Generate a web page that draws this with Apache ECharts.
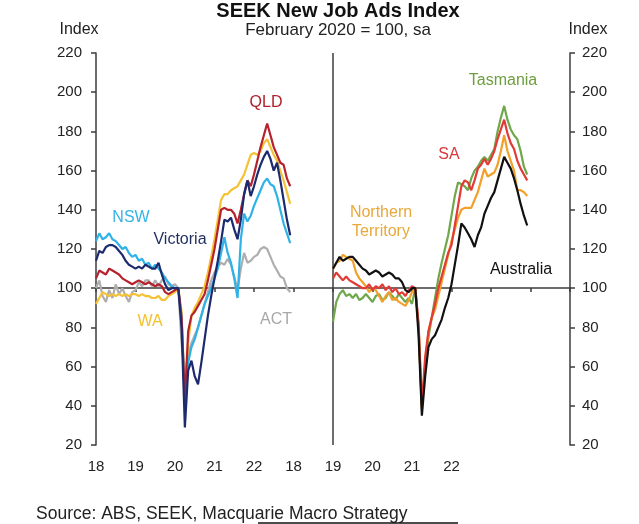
<!DOCTYPE html>
<html><head><meta charset="utf-8">
<script src="https://cdn.jsdelivr.net/npm/echarts/dist/echarts.min.js"></script>
<style>html,body{margin:0;padding:0;background:#fff}#c{width:639px;height:524px}</style>
</head><body><div id="c"></div>
<script>
// x tick labels (one per year tick across both panels)
const yearLabels = ['18','19','20','21','22','18','19','20','21','22','','',''];
const yMin = 20, yMax = 220, yStep = 20;

// Monthly index values, Jan 2018 .. Dec 2022 (Feb 2020 = 100)
// Left panel
const nsw = [124,128,125,126,128,125,124,122,120,121,118,116,
             117,114,115,112,113,110,112,110,108,105,103,101,
             100,100,85,42,62,70,74,80,86,92,96,100,
             105,110,118,126,118,113,105,95,125,138,134,137,
             142,146,150,154,156,153,152,147,140,133,128,123];
const victoria = [114,119,118,121,122,122,121,119,117,114,112,111,
                  110,111,110,112,111,110,110,113,107,102,99,100,
                  100,100,80,29,58,63,55,51,62,74,86,96,
                  105,114,124,135,134,136,130,125,135,148,155,147,
                  152,158,163,167,170,166,160,164,155,145,135,127];
const qld = [105,109,108,107,110,109,108,107,105,104,103,102,
             103,104,103,102,103,102,101,102,101,98,97,98,
             99,100,85,42,78,86,88,91,94,97,104,112,
             120,130,140,141,140,140,138,133,140,148,155,152,
             158,165,172,178,184,178,172,168,164,163,156,152];
const wa = [92,95,98,97,96,97,96,97,96,97,96,97,
            97,96,97,96,96,95,95,96,94,94,96,97,
            98,100,88,45,72,86,90,93,97,101,108,116,
            125,135,145,148,148,150,151,152,155,158,163,168,
            169,168,170,174,176,172,168,165,160,155,149,143];
const act = [100,104,96,93,99,95,102,97,100,96,93,98,
             99,103,101,104,104,101,104,101,104,106,102,101,
             102,100,72,55,66,72,76,80,86,92,98,104,
             108,111,113,112,115,112,106,99,110,118,113,114,
             116,117,120,121,120,116,112,109,106,105,100,98];
// Right panel
const australia = [110,113,116,114,115,116,116,114,112,110,109,107,
                   108,109,108,106,107,108,107,105,105,103,99,98,
                   100,100,76,35,55,70,74,76,80,84,90,95,
                   102,112,122,133,131,128,125,121,127,131,138,142,
                   146,149,155,161,167,164,161,156,150,143,137,132];
const sa = [105,108,106,104,106,104,103,102,101,100,100,102,
            99,101,100,102,99,101,98,100,97,98,96,99,
            101,100,82,40,65,78,85,92,100,106,112,118,
            122,132,142,152,155,154,150,155,161,163,166,163,
            166,170,176,181,186,179,174,171,165,161,158,155];
const nt = [110,113,114,117,116,115,114,108,105,103,101,98,
            100,99,96,93,96,98,94,95,93,92,91,94,
            98,100,80,38,62,78,85,89,96,103,110,117,
            124,130,136,140,141,141,141,145,149,155,161,157,
            158,159,163,170,178,170,165,160,150,150,149,147];
const tasmania = [83,93,97,99,96,97,95,97,94,95,97,95,
                  93,96,97,94,95,98,96,94,97,95,93,95,
                  92,100,80,40,60,75,85,95,105,113,120,127,
                  137,147,154,153,152,150,156,160,162,165,167,165,
                  168,171,180,187,193,186,181,178,176,170,162,158];

const leftStart = 0, rightStart = 6; // year offset of each panel on the shared axis
function pts(vals, start){ return vals.map((v,i)=>[start + i/12, v]); }

const seriesDefs = [
  {name:'ACT', vals:act, start:leftStart, color:'#AEAEAE'},
  {name:'WA', vals:wa, start:leftStart, color:'#F5C236'},
  {name:'NSW', vals:nsw, start:leftStart, color:'#2EB2E8'},
  {name:'QLD', vals:qld, start:leftStart, color:'#B5222D'},
  {name:'Victoria', vals:victoria, start:leftStart, color:'#1C2B6E'},
  {name:'Tasmania', vals:tasmania, start:rightStart, color:'#6FA84A'},
  {name:'Northern Territory', vals:nt, start:rightStart, color:'#F3A02A'},
  {name:'SA', vals:sa, start:rightStart, color:'#E23A36'},
  {name:'Australia', vals:australia, start:rightStart, color:'#111111'}
];

const FONT = '"Liberation Sans", Arial, sans-serif';
const axisCol = '#3c3c3c';

const series = seriesDefs.map((d, k) => {
  const s = {
    name: d.name, type:'line', xAxisIndex:0, yAxisIndex:0,
    data: pts(d.vals, d.start), showSymbol:false, symbol:'none',
    lineStyle:{color:d.color, width:2.2}, itemStyle:{color:d.color},
    animation:false, z: 3 + k
  };
  if (k === 0) {
    s.markLine = {silent:true, symbol:'none', label:{show:false}, animation:false,
      lineStyle:{color:axisCol, width:1.5, type:'solid'}, data:[{xAxis:rightStart}]};
  }
  return s;
});

const yAxisCommon = {
  type:'value', min:yMin, max:yMax, interval:yStep, gridIndex:0,
  axisLine:{show:true, lineStyle:{color:axisCol, width:1.5}},
  axisTick:{show:true, length:5, lineStyle:{color:axisCol, width:1.5}},
  splitLine:{show:false},
  axisLabel:{color:'#222', fontSize:15, fontFamily:FONT}
};

const labelTexts = [
  {t:'QLD', x:266, y:103, c:'#B0202A'},
  {t:'NSW', x:131, y:218, c:'#33B4E6'},
  {t:'Victoria', x:180, y:240, c:'#1F2D5F'},
  {t:'WA', x:150, y:322, c:'#F2C230'},
  {t:'ACT', x:276, y:320, c:'#A8A8A8'},
  {t:'Tasmania', x:503, y:81, c:'#6E9E40'},
  {t:'SA', x:449, y:155, c:'#D9383A'},
  {t:'Northern', x:381, y:213, c:'#E8A83A'},
  {t:'Territory', x:381, y:232, c:'#E8A83A'},
  {t:'Australia', x:521, y:270, c:'#111111'}
];

const graphic = [
  {type:'text', x:338, y:11, style:{text:'SEEK New Job Ads Index', font:'bold 20px ' + FONT, fill:'#111', textAlign:'center', textVerticalAlign:'middle'}},
  {type:'text', x:338, y:30, style:{text:'February 2020 = 100, sa', font:'17px ' + FONT, fill:'#222', textAlign:'center', textVerticalAlign:'middle'}},
  {type:'text', x:79, y:30, style:{text:'Index', font:'16px ' + FONT, fill:'#222', textAlign:'center', textVerticalAlign:'middle'}},
  {type:'text', x:588, y:30, style:{text:'Index', font:'16px ' + FONT, fill:'#222', textAlign:'center', textVerticalAlign:'middle'}},
  {type:'text', x:36, y:514, style:{text:'Source: ABS, SEEK, Macquarie Macro Strategy', font:'17.5px ' + FONT, fill:'#222', textAlign:'left', textVerticalAlign:'middle'}},
  {type:'line', shape:{x1:258, y1:523, x2:458, y2:523}, style:{stroke:'#111', lineWidth:1.5}}
].concat(labelTexts.map(l => ({type:'text', x:l.x, y:l.y, z:100,
  style:{text:l.t, font:'16px ' + FONT, fill:l.c, textAlign:'center', textVerticalAlign:'middle'}})));

const option = {
  backgroundColor:'#ffffff',
  animation:false,
  textStyle:{fontFamily:FONT},
  grid:[
    {left:96, right:69, top:53, bottom:79},
    {left:96, right:69, top:53, bottom:236}
  ],
  xAxis:[
    {type:'value', gridIndex:0, min:0, max:12, interval:1,
     axisLine:{show:false}, axisTick:{show:false}, splitLine:{show:false},
     axisLabel:{color:'#222', fontSize:15, fontFamily:FONT, margin:14,
       showMinLabel:true, showMaxLabel:true,
       formatter:(v)=> yearLabels[Math.round(v)] || ''}},
    {type:'value', gridIndex:1, min:0, max:12, interval:1,
     axisLine:{show:true, onZero:false, lineStyle:{color:axisCol, width:1.5}},
     axisTick:{show:true, length:4, lineStyle:{color:axisCol, width:1.5}},
     axisLabel:{show:false}, splitLine:{show:false}}
  ],
  yAxis:[
    Object.assign({}, yAxisCommon, {position:'left', axisLabel:Object.assign({}, yAxisCommon.axisLabel, {margin:14})}),
    Object.assign({}, yAxisCommon, {position:'right', axisLabel:Object.assign({}, yAxisCommon.axisLabel, {margin:12})}),
    {type:'value', gridIndex:1, min:0, max:1, show:false}
  ],
  series: series,
  graphic: graphic
};

const chart = echarts.init(document.getElementById('c'), null, {renderer:'canvas'});
chart.setOption(option);
</script>
</body></html>
